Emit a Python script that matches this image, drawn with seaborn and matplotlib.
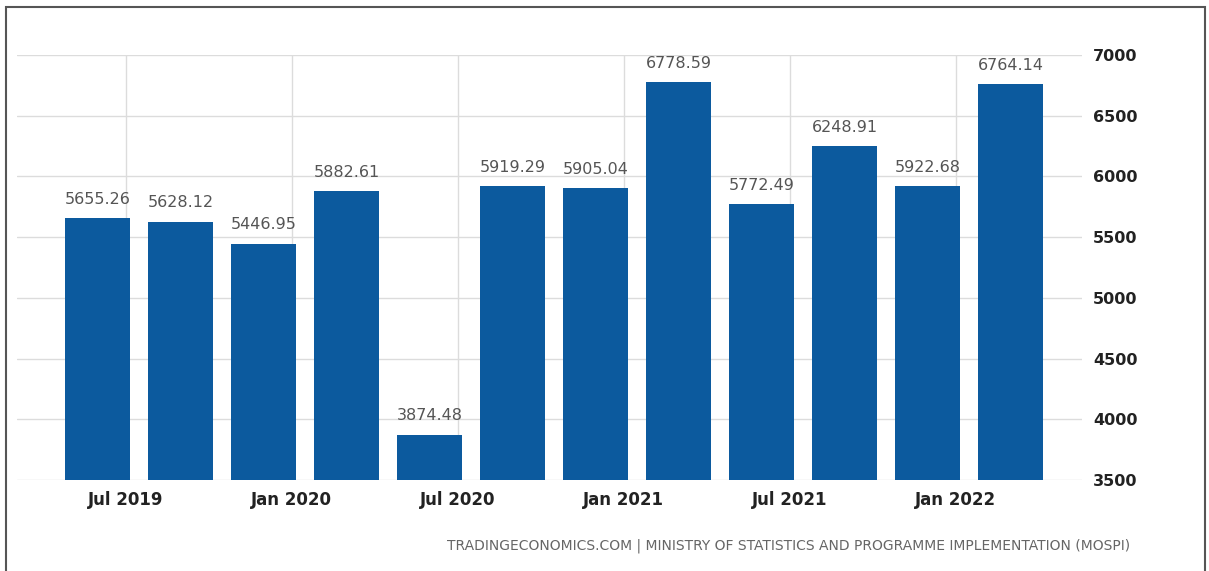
import matplotlib
matplotlib.use("Agg")
import matplotlib.pyplot as plt
import seaborn as sns
import pandas as pd
from matplotlib.patches import Rectangle

quarters = ["2019Q2", "2019Q3", "2019Q4", "2020Q1", "2020Q2", "2020Q3",
            "2020Q4", "2021Q1", "2021Q2", "2021Q3", "2021Q4", "2022Q1"]
values = [5655.26, 5628.12, 5446.95, 5882.61, 3874.48, 5919.29,
          5905.04, 6778.59, 5772.49, 6248.91, 5922.68, 6764.14]
tick_labels = ["Jul 2019", "Jan 2020", "Jul 2020", "Jan 2021", "Jul 2021", "Jan 2022"]
y_ticks = [3500, 4000, 4500, 5000, 5500, 6000, 6500, 7000]
source = "TRADINGECONOMICS.COM | MINISTRY OF STATISTICS AND PROGRAMME IMPLEMENTATION (MOSPI)"

sns.set_theme(style="white")
plt.rcParams['font.family'] = ['DejaVu Sans']

W, H = 1209, 571
fig = plt.figure(figsize=(W / 100, H / 100), dpi=100)
fig.patch.set_facecolor("white")

ax = fig.add_axes([17 / W, 1 - 480 / H, (1082 - 17) / W, (480 - 55) / H])
df = pd.DataFrame({"quarter": quarters, "value": values})
bar_color = "#0c5a9e"
sns.barplot(data=df, x="quarter", y="value", color=bar_color, width=0.78,
            saturation=1, ax=ax, edgecolor="none")

ax.set_ylim(3500, 7000)
ax.set_xlim(-0.97, 11.86)
ax.set_yticks(y_ticks)
ax.yaxis.tick_right()
ax.set_yticklabels([str(v) for v in y_ticks], fontsize=11.5, color="#222222",
                   fontweight="bold")
ax.tick_params(axis="y", length=0, pad=8)

# ticks at Jul / Jan, a third of a quarter after a bar
tick_pos = [i * 2 + 0.34 for i in range(len(tick_labels))]
ax.set_xticks(tick_pos)
ax.set_xticklabels(tick_labels, fontsize=12, color="#222222", fontweight="bold")
ax.tick_params(axis="x", length=0, pad=8)

ax.set_xlabel("")
ax.set_ylabel("")
for s in ax.spines.values():
    s.set_visible(False)
ax.grid(True, color="#dcdcdc", linewidth=1)
ax.set_axisbelow(True)

for i, v in enumerate(values):
    ax.annotate(f"{v:.2f}", xy=(i, v), xytext=(0, 8), textcoords="offset points",
                ha="center", va="bottom", fontsize=11.5, color="#555555")

fig.text(1130 / W, 1 - 546 / H, source, ha="right", va="center",
         fontsize=10, color="#666666")

fig.patches.append(Rectangle((6 / W, -0.05), (1205 - 6) / W, 0.05 + 1 - 7 / H,
                             transform=fig.transFigure, fill=False,
                             edgecolor="#555555", linewidth=1.5))

fig.savefig("out.png", dpi=100)
